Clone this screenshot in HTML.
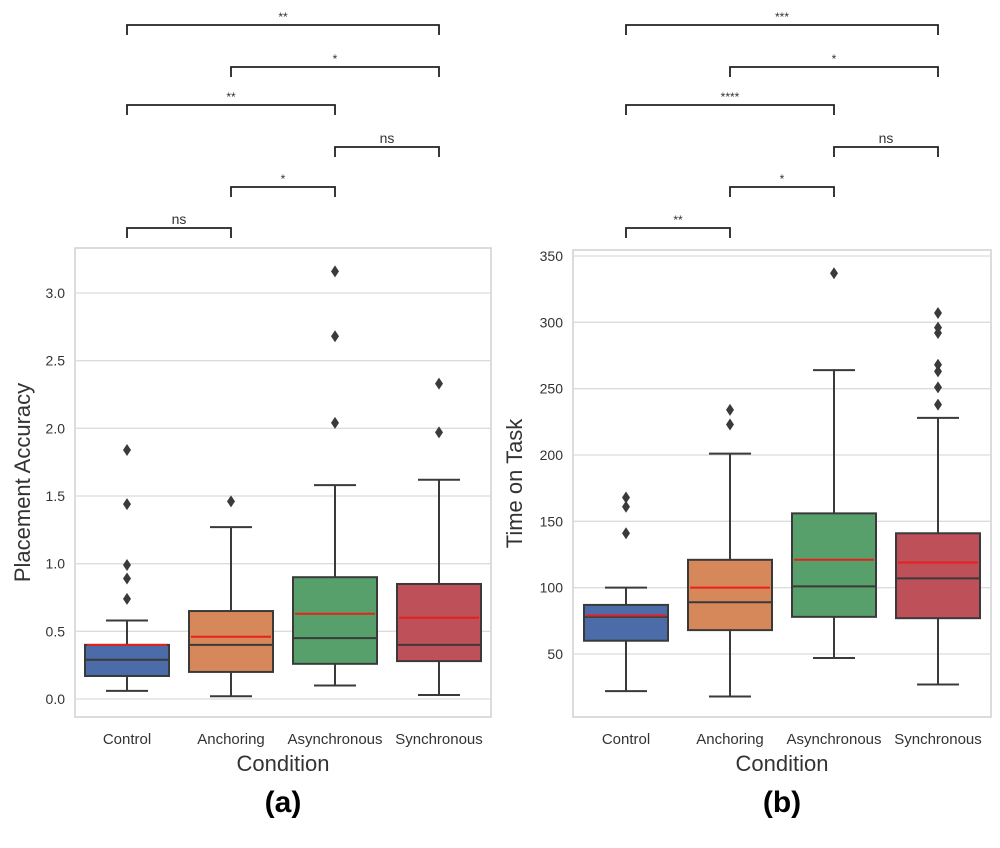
<!DOCTYPE html>
<html><head><meta charset="utf-8"><style>
body{margin:0;background:#fff;}
svg text{font-family:"Liberation Sans",sans-serif;fill:#333;}
</style></head><body>
<svg id="fig" width="1000" height="843" xmlns="http://www.w3.org/2000/svg"></svg>
<script>
const categories=["Control","Anchoring","Asynchronous","Synchronous"];
const colors=["#4b6ca8","#d6885a","#57a06c","#bd5058"];
// Panel a: Placement Accuracy
const aWhiskLo=[0.06,0.02,0.10,0.03];
const aQ1=[0.17,0.20,0.26,0.28];
const aMedian=[0.29,0.40,0.45,0.40];
const aQ3=[0.40,0.65,0.90,0.85];
const aWhiskHi=[0.58,1.27,1.58,1.62];
const aMean=[0.40,0.46,0.63,0.60];
const aOutliers=[[0.74,0.89,0.99,1.44,1.84],[1.46],[2.04,2.68,3.16],[1.97,2.33]];
const aTicks=[0,0.5,1.0,1.5,2.0,2.5,3.0];
const aSig=[["ns",0,1],["*",1,2],["ns",2,3],["**",0,2],["*",1,3],["**",0,3]];
// Panel b: Time on Task
const bWhiskLo=[22,18,47,27];
const bQ1=[60,68,78,77];
const bMedian=[78,89,101,107];
const bQ3=[87,121,156,141];
const bWhiskHi=[100,201,264,228];
const bMean=[79,100,121,119];
const bOutliers=[[141,161,168],[223,234],[337],[238,251,263,268,292,296,307]];
const bTicks=[50,100,150,200,250,300,350];
const bSig=[["**",0,1],["*",1,2],["ns",2,3],["****",0,2],["*",1,3],["***",0,3]];

const svg=document.getElementById('fig');
const NS="http://www.w3.org/2000/svg";
function mk(tag,attrs,parent,txt){const e=document.createElementNS(NS,tag);for(const k in attrs)e.setAttribute(k,attrs[k]);if(txt!==undefined)e.textContent=txt;(parent||svg).appendChild(e);return e;}

function panel(o){
  const g=mk('g',{});
  
  
  const y=v=>o.y0px+(v-o.v0)*(o.y1px-o.y0px)/(o.v1-o.v0);
  const x=i=>o.x0c+i*104;
  mk('rect',{x:o.fx,y:o.fy,width:o.fw,height:o.fh,fill:'#fff',stroke:'#d0d0d0','stroke-width':1.5},g);
  o.ticks.forEach(t=>{
    const l=mk('line',{x1:o.fx,x2:o.fx+o.fw,y1:y(t),y2:y(t),stroke:'#dcdcdc','stroke-width':1.3},g);
    
    
    const tx=mk('text',{x:o.fx-10,y:y(t)+5,'text-anchor':'end','font-size':14},g,o.fmt(t));
    
    
  });
  categories.forEach((c,i)=>{
    const cx=x(i),hw=42;
    const bg=mk('g',{},g);
    
    
    const st={stroke:'#3a3a3a','stroke-width':2};
    mk('line',Object.assign({x1:cx,x2:cx,y1:y(o.lo[i]),y2:y(o.q1[i])},st),bg);
    mk('line',Object.assign({x1:cx,x2:cx,y1:y(o.q3[i]),y2:y(o.hi[i])},st),bg);
    mk('line',Object.assign({x1:cx-21,x2:cx+21,y1:y(o.lo[i]),y2:y(o.lo[i])},st),bg);
    mk('line',Object.assign({x1:cx-21,x2:cx+21,y1:y(o.hi[i]),y2:y(o.hi[i])},st),bg);
    mk('rect',Object.assign({x:cx-hw,y:y(o.q3[i]),width:2*hw,height:y(o.q1[i])-y(o.q3[i]),fill:colors[i]},st),bg);
    mk('line',Object.assign({x1:cx-hw,x2:cx+hw,y1:y(o.med[i]),y2:y(o.med[i])},st),bg);
    mk('line',{x1:cx-hw+2,x2:cx+hw-2,y1:y(o.mean[i]),y2:y(o.mean[i]),stroke:'#e8201c','stroke-width':2},bg);
    o.out[i].forEach(v=>{
      const p=mk('path',{d:`M${cx},${y(v)-6}L${cx+4},${y(v)}L${cx},${y(v)+6}L${cx-4},${y(v)}Z`,fill:'#3a3a3a'},bg);
      
      
    });
    const t=mk('text',{x:cx,y:o.fy+o.fh+27,'text-anchor':'middle','font-size':15},g,c);
    
    
  });
  const levels=[228,187,147,105,67,25];
  o.sig.forEach((s,k)=>{
    const ly=levels[k],a=x(s[1]),b=x(s[2]);
    const br=mk('path',{d:`M${a},${ly+10}V${ly}H${b}V${ly+10}`,fill:'none',stroke:'#222','stroke-width':1.8},g);
    
    
    const t=mk('text',{x:(a+b)/2,y:ly-4,'text-anchor':'middle','font-size':s[0]==='ns'?14:12},g,s[0]);
    
    
  });
  const xt=mk('text',{x:o.fx+o.fw/2,y:771,'text-anchor':'middle','font-size':22},g,'Condition');
  
  
  const yt=mk('text',{x:0,y:0,'text-anchor':'middle','font-size':22,transform:`translate(${o.ytx},${o.fy+o.fh/2}) rotate(-90)`},g,o.ytitle);
  
  
  const pl=mk('text',{x:o.fx+o.fw/2,y:812,'text-anchor':'middle','font-size':30,'font-weight':'bold',style:'fill:#000'},g,o.label);
  
  
}
panel({name:'panel-a-placement-accuracy',fx:75,fy:248,fw:416,fh:469,x0c:127,v0:0,v1:3,y0px:699,y1px:293,
  ticks:aTicks,fmt:t=>t.toFixed(1),lo:aWhiskLo,q1:aQ1,med:aMedian,q3:aQ3,hi:aWhiskHi,mean:aMean,out:aOutliers,sig:aSig,
  ytitle:'Placement Accuracy',ytx:30,label:'(a)'});
panel({name:'panel-b-time-on-task',fx:573,fy:250,fw:418,fh:467,x0c:626,v0:50,v1:350,y0px:654,y1px:256,
  ticks:bTicks,fmt:t=>String(t),lo:bWhiskLo,q1:bQ1,med:bMedian,q3:bQ3,hi:bWhiskHi,mean:bMean,out:bOutliers,sig:bSig,
  ytitle:'Time on Task',ytx:522,label:'(b)'});
</script>
</body></html>
